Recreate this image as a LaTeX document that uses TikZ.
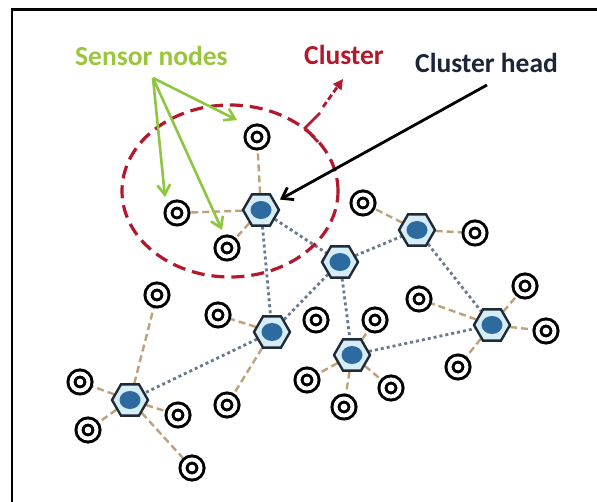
\documentclass[tikz,border=0pt]{standalone}
\usepackage{fontspec}
\setmainfont{Carlito}
\usetikzlibrary{shapes.geometric,arrows.meta}

\definecolor{headline}{HTML}{1E2A36}
\definecolor{headlight}{HTML}{D6ECF7}
\definecolor{headblue}{HTML}{2D6A9F}
\definecolor{linktan}{HTML}{BFA07A}
\definecolor{linkgray}{HTML}{6A7A8E}
\definecolor{clusterred}{HTML}{B3182D}
\definecolor{sensgreen}{HTML}{8DC63F}
\definecolor{senstext}{HTML}{9BC53D}
\definecolor{headtext}{HTML}{1C2538}

\pgfdeclarelayer{bg}
\pgfsetlayers{bg,main}

\begin{document}
\begin{tikzpicture}[x=1pt,y=-1pt,
  sensor/.style={circle, inner sep=0pt, minimum size=17pt, outer sep=5pt,
    draw=black, line width=3pt, double=white, double distance=4pt, fill=white},
  head/.style={regular polygon, regular polygon sides=6, inner sep=0pt,
    minimum size=36pt, outer sep=1pt, draw=headline, line width=2.4pt, fill=headlight,
    path picture={\fill[headblue] (path picture bounding box.center)
      ellipse [x radius=10.5pt, y radius=9pt];}},
  sensorlink/.style={draw=linktan, line width=2.4pt, dash pattern=on 7pt off 4pt},
  headlink/.style={draw=linkgray, line width=2.8pt, dash pattern=on 3pt off 3pt},
  greenarrow/.style={draw=sensgreen, line width=2.6pt,
    -{Straight Barb[length=10pt, width=13pt]}},
  label/.style={inner sep=0pt, anchor=base west, font=\bfseries\fontsize{27.5}{30}\selectfont}
]
% page and frame
\useasboundingbox (0,0) rectangle (597,502);
\begin{pgfonlayer}{bg}
  \fill[white] (0,0) rectangle (597,502);
\end{pgfonlayer}
\draw[line width=2.8pt] (12,502) -- (12,9.5) -- (597,9.5);

% cluster heads
\node[head] (h1) at (261,210) {};
\node[head] (h2) at (340,262) {};
\node[head] (h3) at (417,230) {};
\node[head] (h4) at (272,332) {};
\node[head] (h5) at (352,355) {};
\node[head] (h6) at (492,325) {};
\node[head] (h7) at (130,400) {};

% sensor nodes
\node[sensor] (sa) at (257,137) {};
\node[sensor] (sb) at (177,213) {};
\node[sensor] (sc) at (227,248) {};
\node[sensor] (sd) at (363,203) {};
\node[sensor] (se) at (475,233) {};
\node[sensor] (sf) at (218,315) {};
\node[sensor] (sg) at (227,405) {};
\node[sensor] (sh) at (375,320) {};
\node[sensor] (si) at (307,380) {};
\node[sensor] (sj) at (344,407) {};
\node[sensor] (sk) at (391,388) {};
\node[sensor] (sl) at (419,299) {};
\node[sensor] (sm) at (525,286) {};
\node[sensor] (sn) at (546,331) {};
\node[sensor] (so) at (458,367) {};
\node[sensor] (sp) at (157,295) {};
\node[sensor] (sq) at (80,382) {};
\node[sensor] (sr) at (88,430) {};
\node[sensor] (ss) at (178,415) {};
\node[sensor] (st) at (192,468) {};
\node[sensor] (su) at (316,320) {};

% links drawn underneath the nodes
\begin{pgfonlayer}{bg}
  \foreach \a/\b in {h1/h2, h1/h4, h2/h3, h2/h4, h2/h5, h3/h6, h4/h7, h5/h6}
    \draw[headlink] (\a) -- (\b);
  \foreach \a/\b in {h1/sa, h1/sb, h1/sc, h3/sd, h3/se, h4/sf, h4/sg,
                     h5/sh, h5/si, h5/sj, h5/sk, h6/sl, h6/sm, h6/sn, h6/so,
                     h7/sp, h7/sq, h7/sr, h7/ss, h7/st}
    \draw[sensorlink] (\a) -- (\b);
\end{pgfonlayer}

% cluster boundary
\node[ellipse, inner sep=0pt, minimum width=216pt, minimum height=172pt,
      draw=clusterred, line width=3.2pt, dash pattern=on 13pt off 7pt]
      (cluster) at (230,191) {};

% labels
\node[label, text=senstext] (tsens) at (75,66) {Sensor nodes};
\node[label, text=clusterred] (tclus) at (304,65) {Cluster};
\node[label, text=headtext] (thead) at (415,73) {Cluster head};

% sensor-node pointers
\coordinate (gs) at (153,78);
\coordinate (g1) at (237,120);
\coordinate (g2) at (165,197);
\coordinate (g3) at (222,230);
\draw[greenarrow] (gs) -- (g1);
\draw[greenarrow] (gs) -- (g2);
\draw[greenarrow] (gs) -- (g3);

% cluster pointer with bracket mark on the boundary
\coordinate (k1) at (320,113);
\coordinate (k2) at (305,128);
\coordinate (k3) at (318,142);
\draw[clusterred, line width=2.8pt] (k1) -- (k2) -- (k3);
\coordinate (cs) at (323,107);
\coordinate (ce) at (343,79);
\draw[clusterred, line width=2.8pt, dash pattern=on 6pt off 3pt,
      -{Triangle[length=10pt, width=10pt]}] (cs) -- (ce);

% cluster-head pointer
\coordinate (hs) at (487,85);
\draw[black, line width=2.8pt, shorten >=5pt,
      -{Straight Barb[length=10pt, width=14pt]}] (hs) -- (h1);
\end{tikzpicture}
\end{document}
